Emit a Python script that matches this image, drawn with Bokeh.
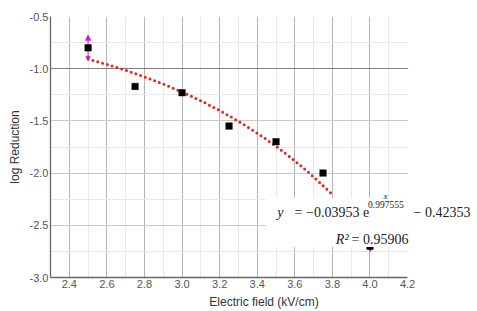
from bokeh.plotting import figure
from bokeh.models import (FixedTicker, PrintfTickFormatter, Label, BoxAnnotation,
                          Whisker, ColumnDataSource, NormalHead, Grid)
from bokeh.embed import file_html
from bokeh.resources import INLINE
import numpy as np

# ---- data ----
field = [2.5, 2.75, 3.0, 3.25, 3.5, 3.75, 4.0]
log_red = [-0.80, -1.17, -1.23, -1.55, -1.70, -2.00, -2.70]
err = [0.12, 0.0, 0.0, 0.0, 0.0, 0.0, 0.05]

# trendline shown on the chart: y = a * exp(x / tau) + c
fit_a = -0.03953
fit_tau = 0.997555
fit_c = -0.42353
fit_x_start = 2.5
fit_x_end = 3.8

x_ticks = [2.4, 2.6, 2.8, 3.0, 3.2, 3.4, 3.6, 3.8, 4.0, 4.2]
y_ticks = [-3.0, -2.5, -2.0, -1.5, -1.0, -0.5]
x_grid_major = [2.4, 2.6, 2.8, 3.0, 3.2, 3.4, 3.6, 3.8, 4.0]
x_grid_minor = [2.5, 2.7, 2.9, 3.1, 3.3, 3.5, 3.7, 3.9, 4.1]
y_grid_minor = [-2.75, -2.25, -1.75, -1.25, -0.75]
y_strong = [-1.0]

x_lo, x_hi = 2.3, 4.2
y_lo, y_hi = -3.0, -0.5

eq_main = "=  \u22120.03953 e"
eq_exp = "0.997555"
eq_tail = "\u2212 0.42353"
r2_text = "= 0.95906"

MAG = "#cc22cc"
TICK = "#555555"
FONT = "Liberation Sans"
SERIF = "Liberation Serif"

# frame extends past 4.2 to make room for the equation; axis is bounded
p = figure(width=477, height=311, x_range=(x_lo, 4.572), y_range=(y_lo, y_hi),
           output_backend="svg", toolbar_location=None,
           min_border_left=50, min_border_right=0, min_border_top=16, min_border_bottom=33)
p.outline_line_color = None
p.background_fill_color = "white"

# axes
p.xaxis.ticker = FixedTicker(ticks=x_ticks)
p.yaxis.ticker = FixedTicker(ticks=y_ticks)
p.xaxis.bounds = (x_lo, x_hi)
for ax in (p.xaxis, p.yaxis):
    ax.formatter = PrintfTickFormatter(format="%.1f")
    ax.major_label_text_font = FONT
    ax.major_label_text_font_size = "11px"
    ax.major_label_text_color = TICK
    ax.axis_line_color = "#666666"
    ax.axis_line_width = 1.3
    ax.major_tick_line_color = None
    ax.minor_tick_line_color = None
    ax.major_tick_out = 0
    ax.major_tick_in = 0
    ax.minor_tick_out = 0
    ax.minor_tick_in = 0
    ax.major_label_standoff = 2
    ax.axis_label_text_font = FONT
    ax.axis_label_text_font_style = "normal"
    ax.axis_label_text_font_size = "12px"
    ax.axis_label_text_color = "#333333"
p.yaxis.axis_label = "log Reduction"
p.yaxis.axis_label_standoff = 5
p.xaxis.axis_label = "Electric field (kV/cm)"
p.xaxis.axis_label_standoff = 4

# grids
p.xgrid.ticker = FixedTicker(ticks=x_grid_major, minor_ticks=x_grid_minor)
p.ygrid.ticker = FixedTicker(ticks=y_ticks, minor_ticks=y_grid_minor)
p.xgrid.grid_line_color = "#b4b4b4"
p.xgrid.minor_grid_line_color = "#e9e9e9"
p.ygrid.grid_line_color = "#c8c8c8"
p.ygrid.minor_grid_line_color = "#e9e9e9"
p.add_layout(Grid(dimension=1, ticker=FixedTicker(ticks=y_strong),
                  grid_line_color="#808080", grid_line_width=1))
# blank out grid beyond the plotted x range
p.add_layout(BoxAnnotation(left=x_hi + 0.003, fill_color="white", fill_alpha=1.0,
                           line_color=None, level="underlay"))

# trendline
fx = np.linspace(fit_x_start, fit_x_end, 200)
fy = fit_a * np.exp(fx / fit_tau) + fit_c
p.line(fx, fy, line_color="#e3261c", line_width=3, line_dash="0 5", line_cap="round")

# error bars
idx = [i for i, e in enumerate(err) if e > 0]
wsrc = ColumnDataSource(data=dict(
    x=[field[i] for i in idx],
    upper=[log_red[i] + err[i] for i in idx],
    lower=[log_red[i] - err[i] for i in idx]))
p.add_layout(Whisker(base="x", upper="upper", lower="lower", source=wsrc,
                     line_color=MAG, line_width=1,
                     upper_head=NormalHead(size=5, fill_color=MAG, line_color=MAG),
                     lower_head=NormalHead(size=4, fill_color=MAG, line_color=MAG)))

# data points
p.scatter(field, log_red, marker="square", size=6.5, fill_color="black",
          line_color="black", line_width=0.5)

# white box behind the equation
p.add_layout(BoxAnnotation(left=3.444, top=-2.235, bottom=-2.707,
                           fill_color="white", fill_alpha=1.0, line_color=None,
                           level="annotation"))

def lab(x, y, text, size="14px", align="left", style="normal", font=SERIF, color="#222222"):
    p.add_layout(Label(x=x, y=y, text=text, text_align=align, text_baseline="middle",
                       text_font=font, text_font_size=size, text_font_style=style,
                       text_color=color))

lab(3.540, -2.380, "y", align="right", style="italic")
lab(4.014, -2.380, eq_main, align="right")
lab(3.990, -2.300, eq_exp, size="9.5px")
lab(4.083, -2.222, "x", size="9px", align="center", style="italic")
lab(4.232, -2.380, eq_tail)
lab(3.886, -2.637, "R\u00b2", align="right", style="italic")
lab(3.902, -2.637, r2_text)

open("out.html", "w").write(file_html(p, INLINE))
